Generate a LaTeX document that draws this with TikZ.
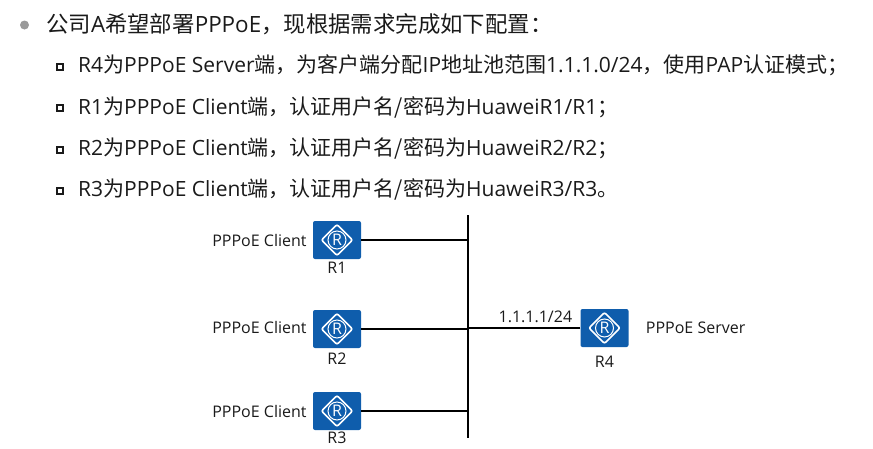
\documentclass[tikz,border=0pt]{standalone}
\usepackage{xcolor}
\usepackage{fontspec}
\setmainfont{Open Sans}
\newfontfamily\cjk{Noto Sans CJK SC}
\usetikzlibrary{positioning,shapes.geometric,calc}
\definecolor{azul}{HTML}{0F5DAC}
\definecolor{gris}{HTML}{9A9A9A}
\definecolor{tinta}{HTML}{1A1A1A}

\begin{document}
\begin{tikzpicture}[
  x=1pt, y=-1pt,
  font=\fontsize{16}{18}\selectfont,
  text=tinta,
  titulo/.style={anchor=west, inner sep=0pt, font=\fontsize{22.4}{26}\selectfont},
  item/.style={anchor=west, inner sep=0pt, font=\fontsize{21}{25}\selectfont},
  vineta/.style={draw=tinta, line width=1.2pt, minimum size=6pt, inner sep=0pt},
  router/.style={fill=azul, rounded corners=2pt, minimum width=48pt, minimum height=38pt, inner sep=0pt,
    text=white, font=\fontsize{16}{18}\selectfont,
    path picture={
      \draw[white, line width=1.7pt] ($(path picture bounding box.center)+(-15.5,0)$) -- ++(15.5,-15.5) -- ++(15.5,15.5) -- ++(-15.5,15.5) -- cycle;
      \draw[white, line width=1pt] (path picture bounding box.center) circle (9);
    }},
  enlace/.style={draw=black, line width=2.1pt}
]
  \useasboundingbox (0,0) rectangle (873,448);

  \node[circle, fill=gris, minimum size=9pt, inner sep=0pt] (b0) at (24.5,25) {};
  \node[titulo] (t0) at (46,24) {{\cjk 公司}A{\cjk 希望部署}PPPoE{\cjk ，现根据需求完成如下配置：}};

  \node[vineta] (b1) at (60,67) {};
  \node[item] (t1) at (78,65) {R4{\cjk 为}PPPoE Server{\cjk 端，为客户端分配}IP{\cjk 地址池范围}1.1.1.0/24{\cjk ，使用}PAP{\cjk 认证模式；}};
  \node[vineta] (b2) at (60,108) {};
  \node[item] (t2) at (78,107) {R1{\cjk 为}PPPoE Client{\cjk 端，认证用户名/密码为}HuaweiR1/R1{\cjk ；}};
  \node[vineta] (b3) at (60,150) {};
  \node[item] (t3) at (78,148) {R2{\cjk 为}PPPoE Client{\cjk 端，认证用户名/密码为}HuaweiR2/R2{\cjk ；}};
  \node[vineta] (b4) at (60,191) {};
  \node[item] (t4) at (78,189) {R3{\cjk 为}PPPoE Client{\cjk 端，认证用户名/密码为}HuaweiR3/R3{\cjk 。}};

  \coordinate (bustop) at (468,215);
  \coordinate (busbot) at (468,438);

  \node[router] (r1) at (337,240) {R};
  \node[router] (r2) at (337,329) {R};
  \node[router] (r3) at (337,411) {R};
  \node[router] (r4) at (604.5,328) {R};

  \node[below=2pt of r1, inner sep=1pt] (n1) {R1};
  \node[below=4pt of r2, inner sep=1pt] (n2) {R2};
  \node[below=2pt of r3, inner sep=0pt] (n3) {R3};
  \node[below=8pt of r4, inner sep=1pt] (n4) {R4};

  \node[left=5pt of r1, inner sep=1pt] (c1) {PPPoE Client};
  \node[left=5pt of r2, inner sep=1pt, yshift=2pt] (c2) {PPPoE Client};
  \node[left=5pt of r3, inner sep=1pt] (c3) {PPPoE Client};
  \node[right=16pt of r4, inner sep=1pt] (s4) {PPPoE Server};

  \draw[enlace] (bustop) -- (busbot);
  \draw[enlace] (r1.east) -- (r1.east -| bustop);
  \draw[enlace] (r2.east) -- (r2.east -| bustop);
  \draw[enlace] (r3.east) -- (r3.east -| bustop);
  \draw[enlace] (r4.west) -- node[pos=0.4, above=3pt, inner sep=1pt] (ip) {1.1.1.1/24} (r4.west -| bustop);
\end{tikzpicture}
\end{document}
